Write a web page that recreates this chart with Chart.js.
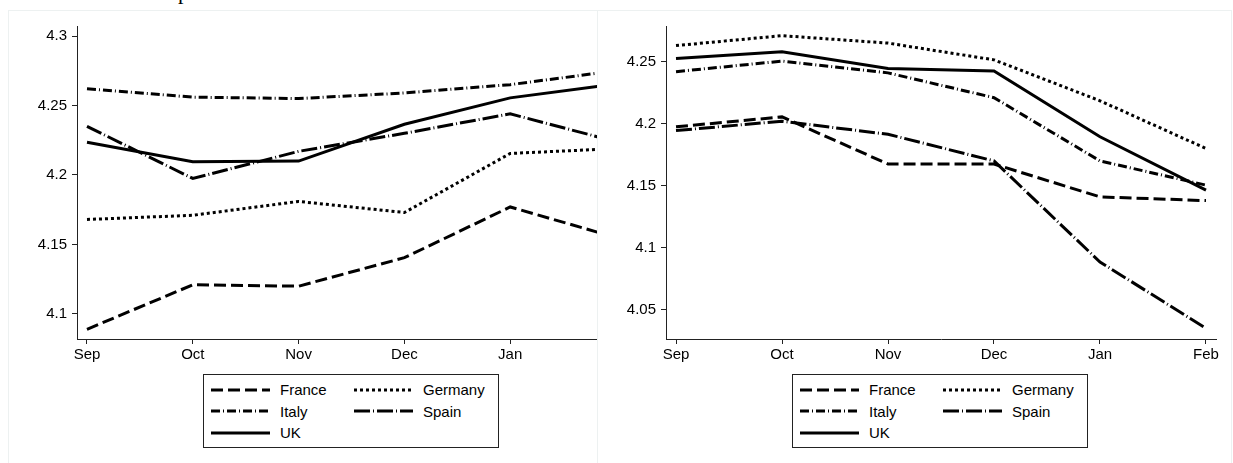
<!DOCTYPE html>
<html>
<head>
<meta charset="utf-8">
<script src="https://cdn.jsdelivr.net/npm/chart.js@4.4.1/dist/chart.umd.min.js"></script>
<style>
  body { margin: 0; background: #fff; font-family: "Liberation Sans", Arial, sans-serif; }
  .panel { position: absolute; top: 10px; height: 470px; border: 1px solid #edf1f1; border-bottom: none; box-sizing: border-box; overflow: hidden; }
  #panelA { left: 8px; width: 590px; }
  #panelB { left: 597px; width: 635px; }
  canvas { position: absolute; top: -1px; }
  #chartA { left: -1px; }
  #chartB { left: 0px; }
  .legend { position: absolute; top: 363px; width: 296px; height: 74px; box-sizing: border-box; border: 1px solid #222;
    display: grid; grid-template-columns: 143px auto; grid-auto-rows: 21.5px; padding: 4px 0 0 7px; font-size: 15px; color: #000; }
  .legend .item { display: flex; align-items: center; white-space: nowrap; }
  .legend svg { width: 59px; height: 4px; margin-right: 10px; }
  #legendA { left: 194px; }
  #legendB { left: 194px; }
  .titlebit { position: absolute; left: 178px; top: -19px; font: 22px/22px "Liberation Serif", serif; color: #000; }
</style>
</head>
<body>
<div class="titlebit">p</div>
<div class="panel" id="panelA">
  <canvas id="chartA" width="634" height="360"></canvas>
  <div class="legend" id="legendA"></div>
</div>
<div class="panel" id="panelB">
  <canvas id="chartB" width="634" height="360"></canvas>
  <div class="legend" id="legendB"></div>
</div>
<script>
const months = ["Sep", "Oct", "Nov", "Dec", "Jan", "Feb"];
const countries = ["France", "Germany", "Italy", "Spain", "UK"];

// left panel
const franceA  = [4.089, 4.121, 4.120, 4.1405, 4.177, 4.155];
const germanyA = [4.168, 4.171, 4.181, 4.173, 4.2155, 4.219];
const italyA   = [4.262, 4.256, 4.255, 4.259, 4.265, 4.275];
const spainA   = [4.235, 4.1975, 4.217, 4.230, 4.244, 4.224];
const ukA      = [4.2235, 4.2095, 4.210, 4.2365, 4.2555, 4.2655];

// right panel
const franceB  = [4.1975, 4.2055, 4.1675, 4.1675, 4.141, 4.138];
const germanyB = [4.263, 4.271, 4.265, 4.2515, 4.2185, 4.180];
const italyB   = [4.242, 4.2505, 4.241, 4.221, 4.170, 4.1505];
const spainB   = [4.1945, 4.202, 4.1915, 4.170, 4.0885, 4.035];
const ukB      = [4.2525, 4.258, 4.2445, 4.2425, 4.1895, 4.1465];

const dashes = [[12, 5], [3, 3], [9, 3, 1, 3], [16, 3, 1, 3], []];

function makeDatasets(series) {
	return series.map((vals, i) => ({
		label: countries[i],
		data: vals.map((v, j) => ({ x: j, y: v })),
		borderColor: "#000",
		borderWidth: 3,
		borderDash: dashes[i],
		pointRadius: 0,
		tension: 0,
		fill: false,
	}));
}

function makeChart(id, series, yMin, yMax, yAxisWidth) {
	const axisFont = { family: "Liberation Sans", size: 15 };
	return new Chart(document.getElementById(id), {
		type: "line",
		data: { datasets: makeDatasets(series) },
		options: {
			responsive: false,
			animation: false,
			layout: { padding: { top: 16, right: 16, left: 0, bottom: 0 } },
			plugins: { legend: { display: false }, tooltip: { enabled: false } },
			scales: {
				x: {
					type: "linear",
					min: -0.0944,
					max: 5.0944,
					grid: { drawOnChartArea: false, drawTicks: true, tickLength: 5, color: "#222" },
					border: { display: true, color: "#222", width: 1 },
					ticks: {
						stepSize: 1,
						includeBounds: false,
						autoSkip: false,
						maxRotation: 0,
						padding: 2,
						color: "#000",
						font: axisFont,
						callback: (v) => months[Math.round(v)] || "",
					},
					afterFit: (s) => { s.height = 31; },
				},
				y: {
					min: yMin,
					max: yMax,
					grid: { drawOnChartArea: false, drawTicks: true, tickLength: 5, color: "#222" },
					border: { display: true, color: "#222", width: 1 },
					ticks: {
						stepSize: 0.05,
						includeBounds: false,
						padding: 5,
						color: "#000",
						font: axisFont,
						callback: (v) => String(Math.round(v * 100) / 100),
					},
					afterFit: (s) => { s.width = yAxisWidth; },
				},
			},
		},
	});
}

function buildLegend(chart, el) {
	chart.data.datasets.forEach((ds) => {
		const item = document.createElement("div");
		item.className = "item";
		const dash = ds.borderDash.length ? ` stroke-dasharray="${ds.borderDash.join(" ")}"` : "";
		item.innerHTML = `<svg viewBox="0 0 59 4"><line x1="0" y1="2" x2="59" y2="2" stroke="#000" stroke-width="3"${dash}/></svg><span>${ds.label}</span>`;
		el.appendChild(item);
	});
}

const chartA = makeChart("chartA", [franceA, germanyA, italyA, spainA, ukA], 4.082, 4.3072, 69);
const chartB = makeChart("chartB", [franceB, germanyB, italyB, spainB, ukB], 4.0264, 4.2788, 68);
buildLegend(chartA, document.getElementById("legendA"));
buildLegend(chartB, document.getElementById("legendB"));
</script>
</body>
</html>
